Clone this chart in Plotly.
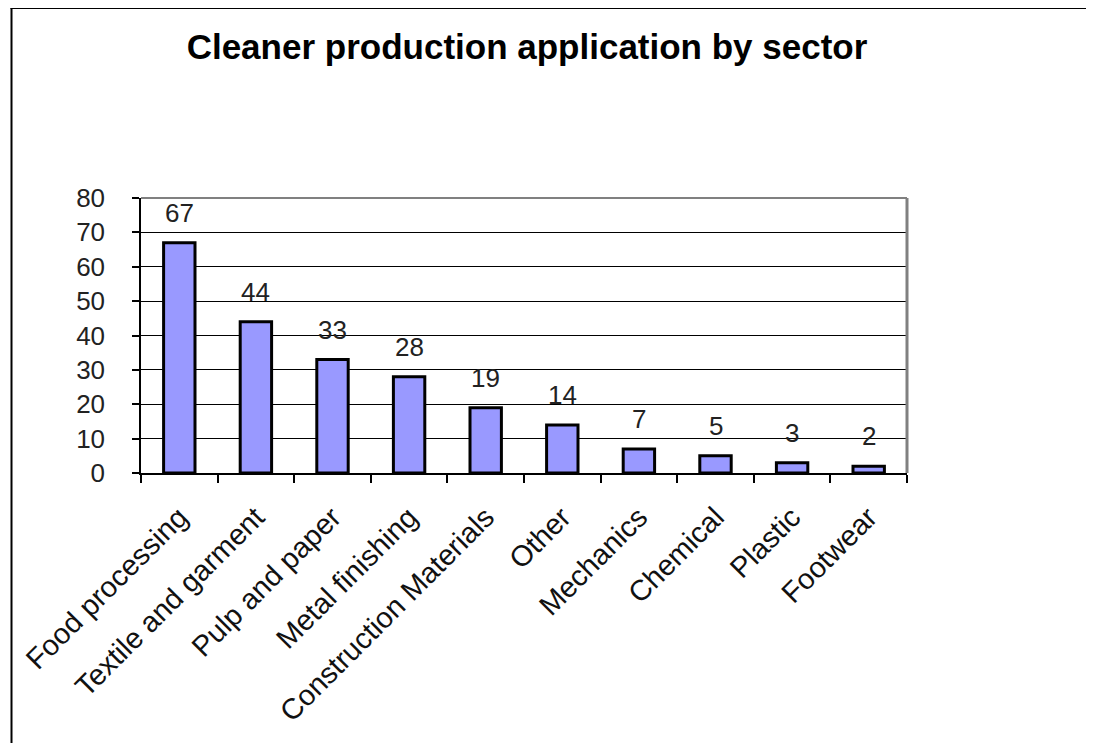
import plotly.graph_objects as go

categories = ["Food processing", "Textile and garment", "Pulp and paper", "Metal finishing",
              "Construction Materials", "Other", "Mechanics", "Chemical", "Plastic", "Footwear"]
values = [67, 44, 33, 28, 19, 14, 7, 5, 3, 2]
y_ticks = [0, 10, 20, 30, 40, 50, 60, 70, 80]

# the page body has an 8px margin; compensate so the picture lands where the reference has it
OFF = 8
W, H = 1094, 743
L, R, T, B = 138 - OFF, 187 + OFF, 198 - OFF, 270 + OFF
pw, ph = W - L - R, H - T - B

def px(x):
    return (x - OFF - L) / pw

def py(y):
    return (H - B - (y - OFF)) / ph

FONT = "Liberation Sans, Arial, sans-serif"

fig = go.Figure()
fig.add_trace(go.Bar(
    x=categories, y=values, width=0.41,
    marker=dict(color="#9999FF", line=dict(color="black", width=3)),
    hoverinfo="skip",
))

annotations = [
    dict(x=c, y=v, xref="x", yref="y", text=str(v), showarrow=False,
         yshift=30, yanchor="middle", font=dict(family=FONT, size=26, color="#222222"))
    for c, v in zip(categories, values)
]

shapes = [
    # outer frame (left and top)
    dict(type="line", xref="paper", yref="paper", x0=px(8), x1=px(8), y0=py(7), y1=py(760),
         line=dict(color="black", width=2)),
    dict(type="line", xref="paper", yref="paper", x0=px(7), x1=px(1110), y0=py(8), y1=py(8),
         line=dict(color="black", width=2)),
    # gray plot border top and right
    dict(type="line", xref="paper", yref="paper", x0=0, x1=1, y0=1, y1=1,
         line=dict(color="#808080", width=2)),
    dict(type="line", xref="paper", yref="paper", x0=1, x1=1, y0=0, y1=1,
         line=dict(color="#808080", width=3)),
]

fig.update_layout(
    width=W, height=H,
    margin=dict(l=L, r=R, t=T, b=B, pad=0),
    paper_bgcolor="white", plot_bgcolor="white",
    showlegend=False,
    title=dict(text="<b>Cleaner production application by sector</b>",
               x=(527 - OFF) / W, xanchor="center", y=1 - (47 - OFF) / H, yanchor="middle",
               font=dict(family=FONT, size=35, color="black")),
    annotations=annotations,
    shapes=shapes,
    font=dict(family=FONT, color="#222222"),
)

fig.update_xaxes(
    type="category", tickangle=-45, tickson="boundaries",
    ticks="outside", ticklen=8, tickcolor="black", tickwidth=1.5,
    showline=True, linecolor="black", linewidth=1.5,
    showgrid=False,
    ticklabelstandoff=14,
    tickfont=dict(family=FONT, size=29, color="#111111"),
)
fig.update_yaxes(
    range=[0, 80], tickvals=y_ticks,
    ticks="outside", ticklen=7, tickcolor="black", tickwidth=1.5,
    showline=True, linecolor="black", linewidth=1.5,
    showgrid=True, gridcolor="black", gridwidth=1,
    zeroline=False,
    ticklabelstandoff=22,
    tickfont=dict(family=FONT, size=26, color="#222222"),
)

fig.write_html("out.html")
